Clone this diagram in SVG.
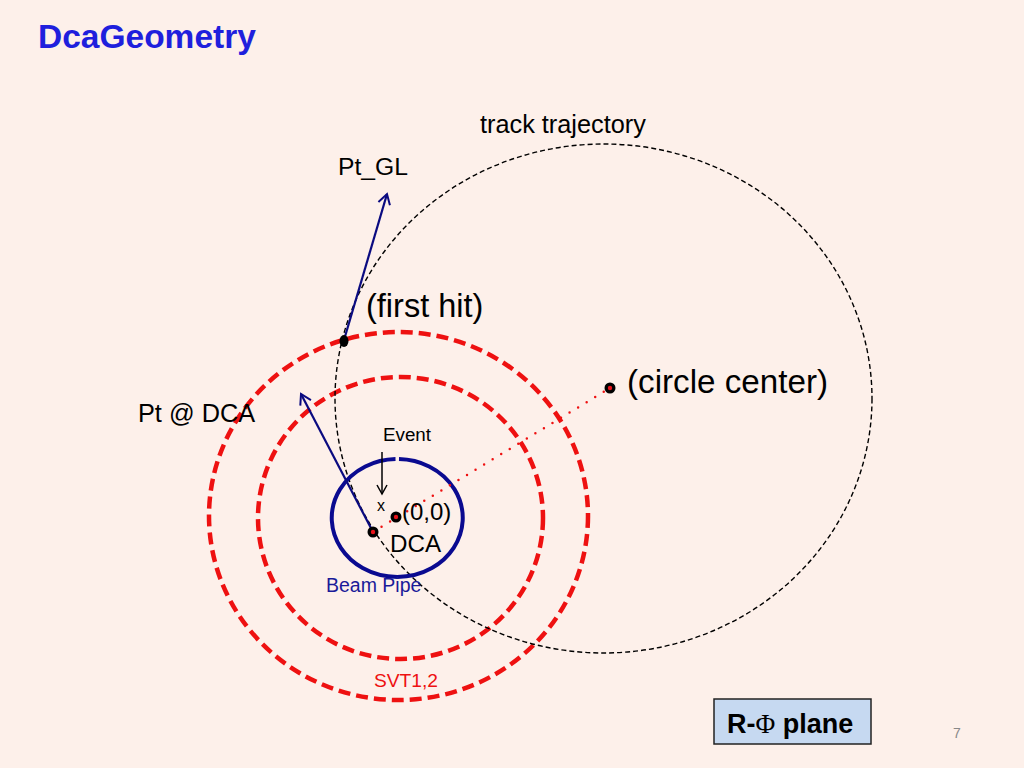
<svg xmlns="http://www.w3.org/2000/svg" width="1024" height="768" viewBox="0 0 1024 768">
<style>
  text { font-family: "Liberation Sans", Arial, sans-serif; fill: #000; }
  .svt { fill: none; stroke: #ee1111; stroke-width: 4.5; stroke-dasharray: 12 6; }
  .track { fill: none; stroke: #000; stroke-width: 1.4; stroke-dasharray: 5 3; }
  .vec { stroke: #0a0a80; stroke-width: 2.2; fill: none; }
  .dot-o { fill: #000; }
  .dot-i { fill: #e8141c; }
</style>
<defs>
  <marker id="openNavy" markerWidth="14" markerHeight="14" refX="11" refY="7" orient="auto" markerUnits="userSpaceOnUse">
    <path d="M1,1 L11,7 L1,13" fill="none" stroke="#0a0a80" stroke-width="2"/>
  </marker>
  <marker id="openBlack" markerWidth="12" markerHeight="12" refX="10" refY="6" orient="auto" markerUnits="userSpaceOnUse">
    <path d="M1,1 L10,6 L1,11" fill="none" stroke="#000" stroke-width="1.5"/>
  </marker>
</defs>
<rect x="0" y="0" width="1024" height="768" fill="#fdf0ea"/>
<text x="38" y="48" font-size="33.5" font-weight="bold" style="fill:#1f1fdd">DcaGeometry</text>

<g id="svt-outer"><ellipse class="svt" cx="398.5" cy="516" rx="189.5" ry="184"/></g>
<g id="svt-inner"><ellipse class="svt" cx="400.5" cy="518" rx="142.5" ry="141"/></g>
<g id="svt-label"><text x="374" y="687" font-size="19.2" style="fill:#ee1111">SVT1,2</text></g>

<g id="track"><ellipse class="track" cx="603.5" cy="398.5" rx="268.5" ry="254.5"/>
  <text x="480" y="133" font-size="25.3">track trajectory</text>
</g>

<g id="beampipe">
  <path d="M 399 459 A 65.5 59 0 1 1 395.5 459" fill="none" stroke="#0a0a90" stroke-width="4"/>
  <text x="326" y="592" font-size="19.5" style="fill:#1a1a99">Beam Pipe</text>
</g>

<g id="connectors">
  <line x1="373" y1="532" x2="610" y2="388" stroke="#ee1111" stroke-width="2.5" stroke-dasharray="0 10" stroke-linecap="round"/>
  <line class="vec" x1="344" y1="340" x2="387" y2="194" marker-end="url(#openNavy)"/>
  <line class="vec" x1="373" y1="532" x2="301" y2="394" marker-end="url(#openNavy)"/>
  <line x1="382" y1="452" x2="382" y2="494" stroke="#000" stroke-width="1.5" marker-end="url(#openBlack)"/>
</g>

<g id="first-hit">
  <ellipse cx="344" cy="341" rx="4.5" ry="6" class="dot-o"/>
  <text x="366" y="317" font-size="32.5">(first hit)</text>
</g>
<g id="pt-gl"><text x="338" y="175" font-size="24.7">Pt_GL</text></g>
<g id="pt-dca"><text x="138" y="422" font-size="25.3">Pt @ DCA</text></g>

<g id="circle-center">
  <circle cx="610" cy="388" r="5.5" class="dot-o"/>
  <circle cx="610" cy="388" r="2.2" class="dot-i"/>
  <text x="627" y="393" font-size="33.2">(circle center)</text>
</g>

<g id="origin">
  <circle cx="396" cy="517" r="5.5" class="dot-o"/>
  <circle cx="396" cy="517" r="2.2" class="dot-i"/>
  <text x="402" y="520" font-size="24">(0,0)</text>
</g>

<g id="dca">
  <circle cx="373" cy="532" r="5.5" class="dot-o"/>
  <circle cx="373" cy="532" r="2.2" class="dot-i"/>
  <text x="390" y="552" font-size="24.2">DCA</text>
</g>

<g id="event">
  <text x="383" y="441" font-size="18.8">Event</text>
  <text x="377" y="511" font-size="16">x</text>
</g>

<g id="rphi">
  <rect x="714" y="699" width="157" height="45" fill="#c6d9f1" stroke="#222" stroke-width="1.5"/>
  <text x="727" y="733" font-size="27" font-weight="bold">R-<tspan font-family="'Liberation Serif', 'Times New Roman', serif" font-weight="normal">Φ</tspan> plane</text>
</g>
<text x="953" y="738" font-size="14" style="fill:#888">7</text>
</svg>
